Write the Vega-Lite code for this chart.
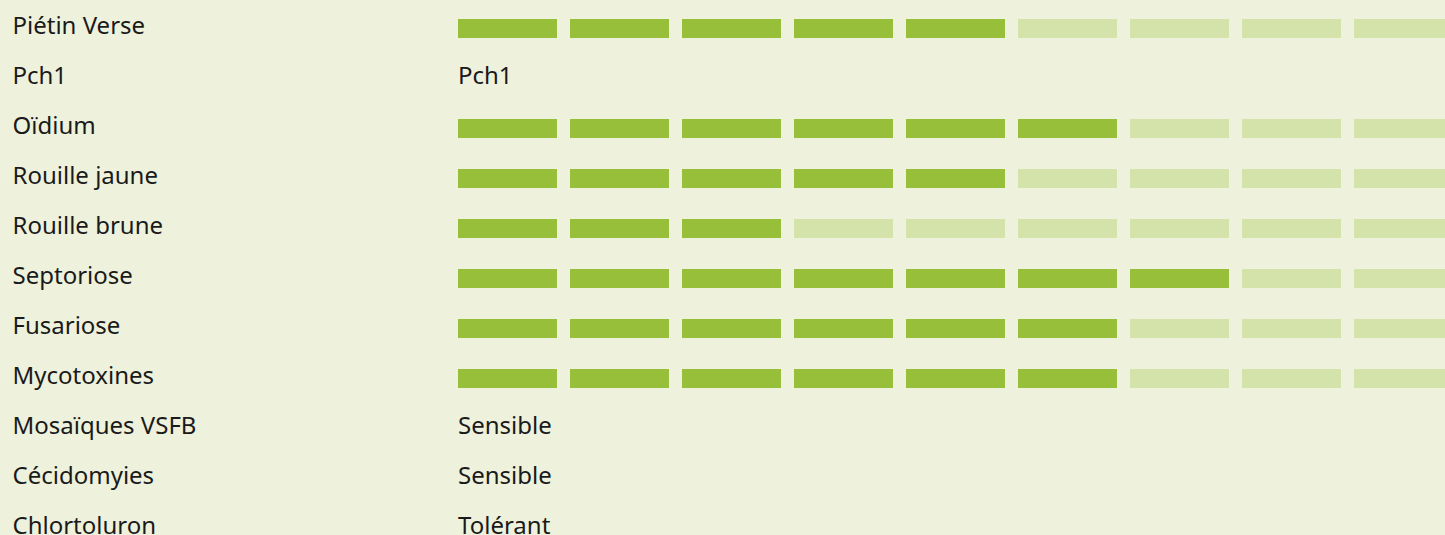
{
  "$schema": "https://vega.github.io/schema/vega-lite/v6.json",
  "autosize": "none",
  "padding": 0,
  "width": 1445,
  "height": 550,
  "background": "#EEF2DC",
  "config": {"view": {"stroke": null}, "font": "Noto Sans"},
  "data": {
    "values": [
      {"trait": "Piétin Verse", "score": 5, "seg": [1,2,3,4,5,6,7,8,9]},
      {"trait": "Pch1", "text": "Pch1"},
      {"trait": "Oïdium", "score": 6, "seg": [1,2,3,4,5,6,7,8,9]},
      {"trait": "Rouille jaune", "score": 5, "seg": [1,2,3,4,5,6,7,8,9]},
      {"trait": "Rouille brune", "score": 3, "seg": [1,2,3,4,5,6,7,8,9]},
      {"trait": "Septoriose", "score": 7, "seg": [1,2,3,4,5,6,7,8,9]},
      {"trait": "Fusariose", "score": 6, "seg": [1,2,3,4,5,6,7,8,9]},
      {"trait": "Mycotoxines", "score": 6, "seg": [1,2,3,4,5,6,7,8,9]},
      {"trait": "Mosaïques VSFB", "text": "Sensible"},
      {"trait": "Cécidomyies", "text": "Sensible"},
      {"trait": "Chlortoluron", "text": "Tolérant"}
    ]
  },
  "encoding": {
    "y": {
      "field": "trait",
      "type": "nominal",
      "sort": null,
      "scale": {
        "domain": ["Piétin Verse", "Pch1", "Oïdium", "Rouille jaune", "Rouille brune", "Septoriose", "Fusariose", "Mycotoxines", "Mosaïques VSFB", "Cécidomyies", "Chlortoluron"],
        "range": [3.5, 553.5],
        "paddingInner": 0,
        "paddingOuter": 0
      },
      "axis": {
        "title": null,
        "domain": false,
        "ticks": false,
        "labelAlign": "left",
        "labelPadding": -12,
        "labelBaseline": "alphabetic",
        "labelOffset": 5.5,
        "labelFontSize": 24,
        "labelFont": "Noto Sans",
        "labelColor": "#1a1a1a",
        "labelLimit": 0
      }
    }
  },
  "layer": [
    {
      "transform": [{"filter": "datum.score != null"}, {"flatten": ["seg"]}],
      "mark": {"type": "bar", "height": 19},
      "encoding": {
        "x": {
          "field": "seg",
          "type": "ordinal",
          "axis": null,
          "scale": {"domain": [1,2,3,4,5,6,7,8,9], "range": [458, 1453], "paddingInner": 0.11607, "paddingOuter": 0}
        },
        "color": {
          "condition": {"test": "datum.seg <= datum.score", "value": "#97BF3A"},
          "value": "#D4E3A9"
        }
      }
    },
    {
      "transform": [{"filter": "datum.text != null"}, {"calculate": "1", "as": "seg"}],
      "mark": {"type": "text", "align": "left", "baseline": "alphabetic", "dy": 5.5, "fontSize": 24, "font": "Noto Sans", "color": "#1a1a1a"},
      "encoding": {
        "x": {"field": "seg", "type": "ordinal", "bandPosition": 0},
        "text": {"field": "text"}
      }
    }
  ]
}
